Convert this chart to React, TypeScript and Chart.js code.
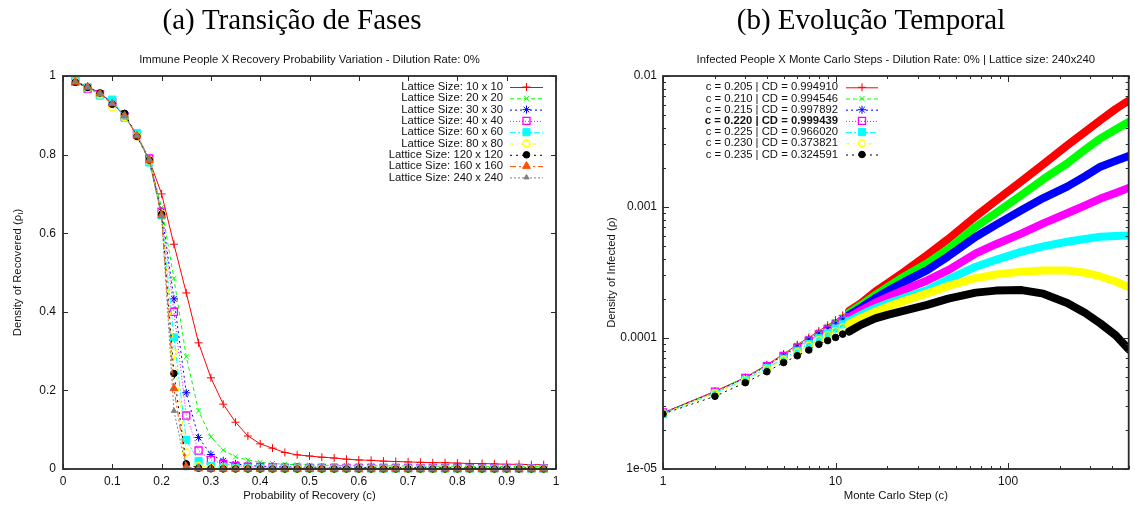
import React, { useEffect, useRef } from 'react';
import { Chart, registerables } from 'chart.js';
import { drawPoint } from 'chart.js/helpers';

Chart.register(...registerables);

const SANS = '"Liberation Sans", Arial, Helvetica, sans-serif';
const SERIF = '"Liberation Serif", "Times New Roman", serif';

// ---------------- Chart (a) data ----------------
const recoveryProb = [
  0.025, 0.05, 0.075, 0.1, 0.125, 0.15, 0.175, 0.2, 0.225, 0.25, 0.275, 0.3, 0.325,
  0.35, 0.375, 0.4, 0.425, 0.45, 0.475, 0.5, 0.525, 0.55, 0.575, 0.6, 0.625, 0.65,
  0.675, 0.7, 0.725, 0.75, 0.775, 0.8, 0.825, 0.85, 0.875, 0.9, 0.925, 0.95, 0.975,
];
const lattice10 = [0.986, 0.973, 0.957, 0.931, 0.899, 0.848, 0.786, 0.7, 0.572, 0.448, 0.321, 0.232, 0.165, 0.119, 0.084, 0.064, 0.053, 0.042, 0.036, 0.033, 0.03, 0.028, 0.025, 0.023, 0.022, 0.02, 0.019, 0.018, 0.017, 0.016, 0.016, 0.015, 0.014, 0.014, 0.013, 0.012, 0.012, 0.011, 0.011];
const lattice20 = [0.985, 0.972, 0.956, 0.932, 0.898, 0.85, 0.788, 0.665, 0.485, 0.286, 0.148, 0.082, 0.048, 0.031, 0.023, 0.017, 0.014, 0.012, 0.011, 0.01, 0.0095, 0.009, 0.0088, 0.0085, 0.0082, 0.008, 0.0078, 0.0076, 0.0074, 0.0072, 0.007, 0.0069, 0.0068, 0.0066, 0.0065, 0.0064, 0.0062, 0.0061, 0.006];
const lattice30 = [0.985, 0.973, 0.955, 0.93, 0.9, 0.849, 0.787, 0.655, 0.433, 0.194, 0.08, 0.037, 0.021, 0.013, 0.009, 0.007, 0.006, 0.0055, 0.005, 0.0048, 0.0046, 0.0044, 0.0042, 0.0041, 0.004, 0.0039, 0.0038, 0.0037, 0.0036, 0.0035, 0.0034, 0.0034, 0.0033, 0.0032, 0.0032, 0.0031, 0.0031, 0.003, 0.003];
const lattice40 = [0.986, 0.968, 0.954, 0.933, 0.897, 0.852, 0.79, 0.655, 0.4, 0.136, 0.047, 0.023, 0.013, 0.008, 0.006, 0.005, 0.004, 0.0036, 0.0033, 0.003, 0.0029, 0.0028, 0.0027, 0.0026, 0.0025, 0.0025, 0.0024, 0.0024, 0.0023, 0.0023, 0.0022, 0.0022, 0.0021, 0.0021, 0.0021, 0.002, 0.002, 0.002, 0.002];
const lattice60 = [0.988, 0.972, 0.95, 0.94, 0.893, 0.855, 0.78, 0.645, 0.335, 0.074, 0.02, 0.008, 0.004, 0.003, 0.002, 0.0018, 0.0016, 0.0015, 0.0014, 0.0013, 0.0013, 0.0012, 0.0012, 0.0012, 0.0011, 0.0011, 0.0011, 0.0011, 0.001, 0.001, 0.001, 0.001, 0.001, 0.001, 0.001, 0.001, 0.001, 0.001, 0.001];
const lattice80 = [0.985, 0.97, 0.953, 0.92, 0.895, 0.847, 0.785, 0.65, 0.296, 0.042, 0.008, 0.003, 0.0015, 0.001, 0.0008, 0.0007, 0.0006, 0.0006, 0.0006, 0.0005, 0.0005, 0.0005, 0.0005, 0.0005, 0.0005, 0.0005, 0.0005, 0.0005, 0.0005, 0.0005, 0.0005, 0.0005, 0.0005, 0.0005, 0.0005, 0.0005, 0.0005, 0.0005, 0.0005];
const lattice120 = [0.984, 0.971, 0.957, 0.928, 0.905, 0.846, 0.786, 0.648, 0.243, 0.013, 0.002, 0.0005, 0.0003, 0.0002, 0.0002, 0.0001, 0.0001, 0.0001, 0.0001, 0.0001, 0.0001, 0.0001, 0.0001, 0.0001, 0.0001, 0.0001, 0.0001, 0.0001, 0.0001, 0.0001, 0.0001, 0.0001, 0.0001, 0.0001, 0.0001, 0.0001, 0.0001, 0.0001, 0.0001];
const lattice160 = [0.985, 0.972, 0.955, 0.93, 0.899, 0.848, 0.786, 0.645, 0.205, 0.006, 0.001, 0.0002, 0.0001, 0.0001, 0.0001, 0.0001, 0.0001, 0.0001, 0.0001, 0.0001, 0.0001, 0.0001, 0.0001, 0.0001, 0.0001, 0.0001, 0.0001, 0.0001, 0.0001, 0.0001, 0.0001, 0.0001, 0.0001, 0.0001, 0.0001, 0.0001, 0.0001, 0.0001, 0.0001];
const lattice240 = [0.985, 0.972, 0.955, 0.93, 0.899, 0.848, 0.786, 0.643, 0.148, 0.002, 0.0003, 0.0001, 0.0001, 0.0001, 0.0001, 0.0001, 0.0001, 0.0001, 0.0001, 0.0001, 0.0001, 0.0001, 0.0001, 0.0001, 0.0001, 0.0001, 0.0001, 0.0001, 0.0001, 0.0001, 0.0001, 0.0001, 0.0001, 0.0001, 0.0001, 0.0001, 0.0001, 0.0001, 0.0001];
const latticeLabels = [
  'Lattice Size: 10 x 10', 'Lattice Size: 20 x 20', 'Lattice Size: 30 x 30',
  'Lattice Size: 40 x 40', 'Lattice Size: 60 x 60', 'Lattice Size: 80 x 80',
  'Lattice Size: 120 x 120', 'Lattice Size: 160 x 160', 'Lattice Size: 240 x 240',
];
const xTicksA = [0, 0.1, 0.2, 0.3, 0.4, 0.5, 0.6, 0.7, 0.8, 0.9, 1];
const yTicksA = [0, 0.2, 0.4, 0.6, 0.8, 1];

// ---------------- Chart (b) data ----------------
const mcSteps = [1, 2, 3, 4, 5, 6, 7, 8, 9, 10, 11, 12, 14, 17, 20, 25, 34, 45, 65, 85, 120, 160, 220, 280, 343, 420, 500];
const inf205 = [2.68e-5, 3.92e-5, 5.0e-5, 6.25e-5, 7.55e-5, 8.9e-5, 1.01e-4, 1.13e-4, 1.25e-4, 1.37e-4, 1.49e-4, 1.61e-4, 1.84e-4, 2.26e-4, 2.62e-4, 3.2e-4, 4.3e-4, 5.7e-4, 8.5e-4, 1.12e-3, 1.58e-3, 2.12e-3, 2.95e-3, 3.75e-3, 4.6e-3, 5.6e-3, 6.5e-3];
const inf210 = [2.67e-5, 3.9e-5, 4.97e-5, 6.2e-5, 7.5e-5, 8.8e-5, 1.0e-4, 1.12e-4, 1.23e-4, 1.34e-4, 1.45e-4, 1.56e-4, 1.78e-4, 2.13e-4, 2.45e-4, 2.95e-4, 3.72e-4, 4.8e-4, 7.07e-4, 9.0e-4, 1.24e-3, 1.63e-3, 2.15e-3, 2.75e-3, 3.34e-3, 3.9e-3, 4.45e-3];
const inf215 = [2.67e-5, 3.88e-5, 4.94e-5, 6.15e-5, 7.4e-5, 8.65e-5, 9.8e-5, 1.09e-4, 1.2e-4, 1.3e-4, 1.4e-4, 1.5e-4, 1.7e-4, 2.01e-4, 2.28e-4, 2.68e-4, 3.3e-4, 4.2e-4, 5.93e-4, 7.3e-4, 9.49e-4, 1.17e-3, 1.43e-3, 1.72e-3, 2.03e-3, 2.25e-3, 2.45e-3];
const inf220 = [2.7e-5, 3.9e-5, 4.95e-5, 6.1e-5, 7.3e-5, 8.45e-5, 9.55e-5, 1.06e-4, 1.16e-4, 1.26e-4, 1.35e-4, 1.44e-4, 1.62e-4, 1.86e-4, 2.05e-4, 2.33e-4, 2.75e-4, 3.3e-4, 4.43e-4, 5.2e-4, 6.29e-4, 7.5e-4, 8.96e-4, 1.03e-3, 1.16e-3, 1.28e-3, 1.4e-3];
const inf225 = [2.62e-5, 3.8e-5, 4.8e-5, 5.9e-5, 6.95e-5, 8.0e-5, 9.0e-5, 9.95e-5, 1.09e-4, 1.18e-4, 1.27e-4, 1.35e-4, 1.5e-4, 1.69e-4, 1.83e-4, 2.03e-4, 2.32e-4, 2.8e-4, 3.5e-4, 3.95e-4, 4.56e-4, 5.0e-4, 5.43e-4, 5.7e-4, 5.93e-4, 6.0e-4, 6.05e-4];
const inf230 = [2.64e-5, 3.78e-5, 4.75e-5, 5.8e-5, 6.8e-5, 7.8e-5, 8.75e-5, 9.65e-5, 1.05e-4, 1.13e-4, 1.21e-4, 1.28e-4, 1.42e-4, 1.59e-4, 1.73e-4, 1.92e-4, 2.19e-4, 2.5e-4, 2.86e-4, 3.05e-4, 3.21e-4, 3.27e-4, 3.27e-4, 3.15e-4, 2.95e-4, 2.7e-4, 2.45e-4];
const inf235 = [2.63e-5, 3.59e-5, 4.56e-5, 5.53e-5, 6.49e-5, 7.32e-5, 8.09e-5, 8.95e-5, 9.55e-5, 1.01e-4, 1.07e-4, 1.12e-4, 1.26e-4, 1.41e-4, 1.5e-4, 1.62e-4, 1.79e-4, 2.0e-4, 2.22e-4, 2.3e-4, 2.32e-4, 2.18e-4, 1.85e-4, 1.55e-4, 1.29e-4, 1.05e-4, 8.2e-5];
const infLabels = [
  'c = 0.205 | CD = 0.994910', 'c = 0.210 | CD = 0.994546', 'c = 0.215 | CD = 0.997892',
  'c = 0.220 | CD = 0.999439', 'c = 0.225 | CD = 0.966020', 'c = 0.230 | CD = 0.373821',
  'c = 0.235 | CD = 0.324591',
];
const boldLegendIndexB = 3;
const xTicksB = [1, 10, 100];
const yTicksB = [1e-5, 1e-4, 1e-3, 1e-2];
const yTickLabelsB = ['1e-05', '0.0001', '0.001', '0.01'];

// ---------------- styles ----------------
const STYLES = [
  { color: '#ff0000', dash: [], point: 'cross', radius: 4, open: false },
  { color: '#00ff00', dash: [4, 3], point: 'crossRot', radius: 3.5, open: false },
  { color: '#0000ff', dash: [2, 3], point: 'star', radius: 4, open: false },
  { color: '#ff00ff', dash: [1, 2], point: 'rect', radius: 5, open: true },
  { color: '#00ffff', dash: [6, 2, 2, 2], point: 'rect', radius: 5, open: false },
  { color: '#ffff00', dash: [4, 3, 1, 3], point: 'circle', radius: 3.5, open: true },
  { color: '#000000', dash: [2, 4], point: 'circle', radius: 3.3, open: false },
  { color: '#ff4d00', dash: [6, 3, 2, 3], point: 'triangle', radius: 4.5, open: false },
  { color: '#808080', dash: [2, 2], point: 'triangle', radius: 3, open: false },
];
const TEXT_SIZE = 11.3;
const TICK_SIZE = 12;

type Deco = {
  title: string; titleX: number;
  subtitle: string;
  xTitle: string;
  yTitle: { text: string; size: number; dy: number }[]; yTitleX: number;
  ticks: (chart: any) => { axis: 'x' | 'y'; v: number; len: number }[];
  legend: { textRight: number; x0: number; x1: number; y0: number; dy: number; bold?: number };
};

function makeDeco(d: Deco) {
  return {
    id: 'deco',
    afterDraw(chart: any) {
      const { ctx, chartArea: ca } = chart;
      const cx = (ca.left + ca.right) / 2;
      ctx.save();
      ctx.fillStyle = '#000';
      ctx.textAlign = 'center';
      ctx.textBaseline = 'alphabetic';
      ctx.font = `29px ${SERIF}`;
      ctx.fillText(d.title, d.titleX, 29);
      ctx.fillStyle = '#111';
      ctx.font = `${TEXT_SIZE}px ${SANS}`;
      ctx.textBaseline = 'middle';
      ctx.fillText(d.subtitle, cx, 60);
      ctx.fillText(d.xTitle, cx, 496);
      // y title (rotated, with optional subscript)
      ctx.save();
      ctx.translate(d.yTitleX, (ca.top + ca.bottom) / 2);
      ctx.rotate(-Math.PI / 2);
      let total = 0;
      for (const p of d.yTitle) {
        ctx.font = `${p.size}px ${SANS}`;
        total += ctx.measureText(p.text).width;
      }
      let x = -total / 2;
      ctx.textAlign = 'left';
      for (const p of d.yTitle) {
        ctx.font = `${p.size}px ${SANS}`;
        ctx.fillText(p.text, x, p.dy);
        x += ctx.measureText(p.text).width;
      }
      ctx.restore();
      // frame
      ctx.strokeStyle = '#2a2a2a';
      ctx.lineWidth = 1.8;
      ctx.strokeRect(ca.left, ca.top, ca.right - ca.left, ca.bottom - ca.top);
      // inward mirrored ticks
      ctx.lineWidth = 1;
      ctx.beginPath();
      for (const t of d.ticks(chart)) {
        if (t.axis === 'x') {
          const px = Math.round(chart.scales.x.getPixelForValue(t.v)) + 0.5;
          ctx.moveTo(px, ca.bottom); ctx.lineTo(px, ca.bottom - t.len);
          ctx.moveTo(px, ca.top); ctx.lineTo(px, ca.top + t.len);
        } else {
          const py = Math.round(chart.scales.y.getPixelForValue(t.v)) + 0.5;
          ctx.moveTo(ca.left, py); ctx.lineTo(ca.left + t.len, py);
          ctx.moveTo(ca.right, py); ctx.lineTo(ca.right - t.len, py);
        }
      }
      ctx.stroke();
      // legend
      const L = d.legend;
      chart.data.datasets.forEach((ds: any, i: number) => {
        const st = STYLES[i];
        const y = L.y0 + i * L.dy;
        ctx.font = `${L.bold === i ? 'bold ' : ''}${TEXT_SIZE}px ${SANS}`;
        ctx.fillStyle = '#111';
        ctx.textAlign = 'right';
        ctx.textBaseline = 'middle';
        ctx.fillText(ds.label, L.textRight, y);
        ctx.strokeStyle = st.color;
        ctx.lineWidth = 1;
        ctx.setLineDash(st.dash);
        ctx.beginPath();
        ctx.moveTo(L.x0, y + 0.5);
        ctx.lineTo(L.x1, y + 0.5);
        ctx.stroke();
        ctx.setLineDash([]);
        ctx.fillStyle = st.open ? 'rgba(0,0,0,0)' : st.color;
        ctx.strokeStyle = st.color;
        ctx.lineWidth = st.open ? 1.3 : 1;
        drawPoint(ctx, { pointStyle: st.point, radius: st.radius, rotation: 0, borderWidth: ctx.lineWidth } as any, (L.x0 + L.x1) / 2, y);
      });
      ctx.restore();
    },
  };
}

const tickFont = { family: SANS, size: TICK_SIZE };

function buildA(): any {
  const series = [lattice10, lattice20, lattice30, lattice40, lattice60, lattice80, lattice120, lattice160, lattice240];
  const datasets = series.map((vals, i) => {
    const st = STYLES[i];
    return {
      label: latticeLabels[i],
      data: recoveryProb.map((x, k) => ({ x, y: vals[k] })),
      borderColor: st.color,
      backgroundColor: st.open ? 'rgba(0,0,0,0)' : st.color,
      pointBackgroundColor: st.open ? 'rgba(0,0,0,0)' : st.color,
      pointBorderColor: st.color,
      pointStyle: st.point,
      pointRadius: st.radius,
      pointBorderWidth: st.open ? 1.3 : 1,
      borderWidth: 1,
      borderDash: st.dash,
      tension: 0,
      clip: false,
      order: series.length - 1 - i,
    };
  });
  return {
    type: 'line',
    data: { datasets },
    options: {
      responsive: false,
      animation: false,
      devicePixelRatio: 1,
      layout: { padding: { left: 0, top: 76, right: 14, bottom: 0 } },
      plugins: { legend: { display: false }, title: { display: false }, tooltip: { enabled: false } },
      scales: {
        x: {
          type: 'linear', min: 0, max: 1,
          afterBuildTicks: (s: any) => { s.ticks = xTicksA.map((v) => ({ value: v })); },
          afterFit: (s: any) => { s.height = 37; },
          grid: { display: false, drawTicks: false },
          border: { display: false },
          ticks: { font: tickFont, color: '#111', padding: 5, maxRotation: 0, autoSkip: false, callback: (v: any) => String(v) },
        },
        y: {
          type: 'linear', min: 0, max: 1,
          afterBuildTicks: (s: any) => { s.ticks = yTicksA.map((v) => ({ value: v })); },
          afterFit: (s: any) => { s.width = 63; },
          grid: { display: false, drawTicks: false },
          border: { display: false },
          ticks: { font: tickFont, color: '#111', padding: 7, autoSkip: false, callback: (v: any) => String(v) },
        },
      },
    },
    plugins: [makeDeco({
      title: '(a) Transição de Fases', titleX: 292,
      subtitle: 'Immune People X Recovery Probability Variation - Dilution Rate: 0%',
      xTitle: 'Probability of Recovery (c)',
      yTitle: [
        { text: 'Density of Recovered (ρ', size: TEXT_SIZE, dy: 0 },
        { text: 'I', size: 8, dy: 3 },
        { text: ')', size: TEXT_SIZE, dy: 0 },
      ],
      yTitleX: 18,
      ticks: () => [
        ...xTicksA.map((v) => ({ axis: 'x' as const, v, len: 5 })),
        ...yTicksA.map((v) => ({ axis: 'y' as const, v, len: 5 })),
      ],
      legend: { textRight: 503, x0: 510, x1: 543, y0: 87, dy: 11.3 },
    })],
  };
}

function buildB(): any {
  const series = [inf205, inf210, inf215, inf220, inf225, inf230, inf235];
  const BAND_FROM = 12;
  const datasets = series.map((vals, i) => {
    const st = STYLES[i];
    return {
      label: infLabels[i],
      data: mcSteps.map((x, k) => ({ x, y: vals[k] })),
      borderColor: st.color,
      backgroundColor: st.open ? 'rgba(0,0,0,0)' : st.color,
      pointBackgroundColor: st.open ? 'rgba(0,0,0,0)' : st.color,
      pointBorderColor: st.color,
      pointStyle: st.point,
      pointRadius: (c: any) => (c.raw && c.raw.x <= BAND_FROM ? st.radius : 0),
      pointBorderWidth: st.open ? 1.3 : 1,
      borderWidth: 1,
      borderDash: st.dash,
      borderJoinStyle: 'round',
      segment: {
        borderWidth: (c: any) => (mcSteps[c.p0DataIndex] >= BAND_FROM ? 8 : 1),
        borderDash: (c: any) => (mcSteps[c.p0DataIndex] >= BAND_FROM ? [] : st.dash),
        borderCapStyle: (c: any) => (mcSteps[c.p0DataIndex] >= BAND_FROM ? 'round' : 'butt'),
      },
      tension: 0,
      order: series.length - 1 - i,
    };
  });
  const minorX: number[] = [];
  for (let k = 0; k <= 2; k++) for (let m = 2; m <= 9; m++) { const v = m * Math.pow(10, k); if (v <= 500) minorX.push(v); }
  const minorY: number[] = [];
  for (let k = -5; k <= -3; k++) for (let m = 2; m <= 9; m++) minorY.push(m * Math.pow(10, k));
  return {
    type: 'line',
    data: { datasets },
    options: {
      responsive: false,
      animation: false,
      devicePixelRatio: 1,
      layout: { padding: { left: 0, top: 76, right: 2, bottom: 0 } },
      plugins: { legend: { display: false }, title: { display: false }, tooltip: { enabled: false } },
      scales: {
        x: {
          type: 'logarithmic', min: 1, max: 500,
          afterBuildTicks: (s: any) => { s.ticks = xTicksB.map((v) => ({ value: v })); },
          afterFit: (s: any) => { s.height = 37; },
          grid: { display: false, drawTicks: false },
          border: { display: false },
          ticks: { font: tickFont, color: '#111', padding: 5, maxRotation: 0, autoSkip: false, callback: (v: any) => String(v) },
        },
        y: {
          type: 'logarithmic', min: 1e-5, max: 1e-2,
          afterBuildTicks: (s: any) => { s.ticks = yTicksB.map((v) => ({ value: v })); },
          afterFit: (s: any) => { s.width = 93; },
          grid: { display: false, drawTicks: false },
          border: { display: false },
          ticks: {
            font: tickFont, color: '#111', padding: 6, autoSkip: false,
            callback: (v: any) => {
              let best = 0;
              yTicksB.forEach((t, j) => { if (Math.abs(Math.log10(t) - Math.log10(v)) < Math.abs(Math.log10(yTicksB[best]) - Math.log10(v))) best = j; });
              return yTickLabelsB[best];
            },
          },
        },
      },
    },
    plugins: [makeDeco({
      title: '(b) Evolução Temporal', titleX: 301,
      subtitle: 'Infected People X Monte Carlo Steps - Dilution Rate: 0% | Lattice size: 240x240',
      xTitle: 'Monte Carlo Step (c)',
      yTitle: [{ text: 'Density of Infected (ρ)', size: TEXT_SIZE, dy: 0 }],
      yTitleX: 42,
      ticks: () => [
        ...xTicksB.map((v) => ({ axis: 'x' as const, v, len: 6 })),
        ...minorX.map((v) => ({ axis: 'x' as const, v, len: 3 })),
        ...yTicksB.map((v) => ({ axis: 'y' as const, v, len: 6 })),
        ...minorY.map((v) => ({ axis: 'y' as const, v, len: 3 })),
      ],
      legend: { textRight: 268, x0: 276, x1: 308, y0: 87.3, dy: 11.2, bold: boldLegendIndexB },
    })],
  };
}

export default function App() {
  const refA = useRef<HTMLCanvasElement>(null);
  const refB = useRef<HTMLCanvasElement>(null);
  useEffect(() => {
    const a = new Chart(refA.current as HTMLCanvasElement, buildA());
    const b = new Chart(refB.current as HTMLCanvasElement, buildB());
    return () => { a.destroy(); b.destroy(); };
  }, []);
  return (
    <div style={{ position: 'absolute', left: 0, top: 0, width: 1135, height: 506, background: '#fff', overflow: 'hidden' }}>
      <canvas ref={refA} width={570} height={506} style={{ position: 'absolute', left: 0, top: 0, width: 570, height: 506 }} />
      <canvas ref={refB} width={565} height={506} style={{ position: 'absolute', left: 570, top: 0, width: 565, height: 506 }} />
    </div>
  );
}
